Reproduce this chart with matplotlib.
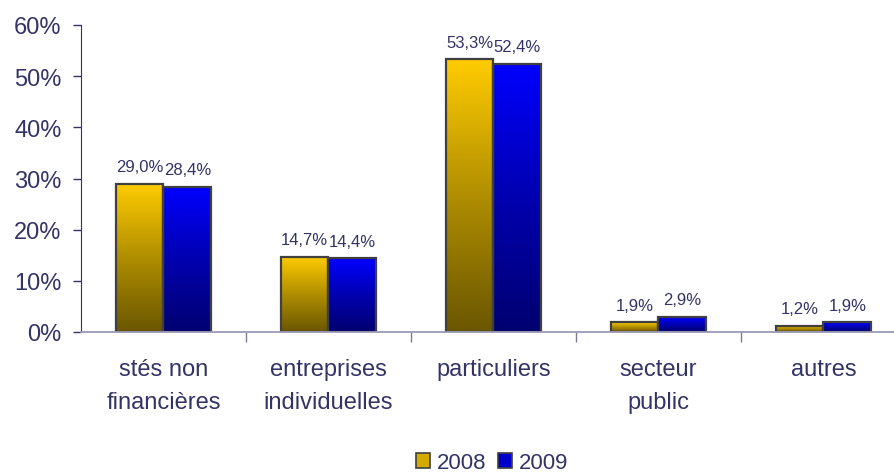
import numpy as np
import matplotlib
matplotlib.use("Agg")
import matplotlib.pyplot as plt
from matplotlib.colors import LinearSegmentedColormap
from matplotlib.patches import Patch
from matplotlib.ticker import FixedLocator, FuncFormatter

categories = ["stés non\nfinancières", "entreprises\nindividuelles", "particuliers",
              "secteur\npublic", "autres"]
years = ["2008", "2009"]
values_2008 = [29.0, 14.7, 53.3, 1.9, 1.2]
values_2009 = [28.4, 14.4, 52.4, 2.9, 1.9]
y_ticks = [0, 10, 20, 30, 40, 50, 60]

text_color = "#333366"
plt.rcParams["font.family"] = ["Liberation Sans", "DejaVu Sans"]

fig = plt.figure(figsize=(8.95, 4.77), dpi=100)
W, H = 895, 477
ax = fig.add_axes([81 / W, 1 - 333 / H, (906 - 81) / W, (333 - 26) / H])

gold = LinearSegmentedColormap.from_list("gold", ["#6a5600", "#b08e00", "#ffcc00"])
blue = LinearSegmentedColormap.from_list("blue", ["#000070", "#0000b0", "#0000ff"])

x = np.arange(len(categories))
width = 0.288
series = [(values_2008, gold, -width / 2), (values_2009, blue, width / 2)]
grad = np.linspace(0, 1, 256).reshape(-1, 1)

for vals, cmap, off in series:
    bars = ax.bar(x + off, vals, width, facecolor="none", edgecolor="#404040",
                  linewidth=1.6, zorder=3)
    for b, v in zip(bars, vals):
        x0, w, h = b.get_x(), b.get_width(), b.get_height()
        ax.imshow(grad, cmap=cmap, origin="lower", aspect="auto",
                  extent=[x0, x0 + w, 0, h], zorder=2, interpolation="bilinear")
        ax.annotate(f"{v:.1f}%".replace(".", ","), (x0 + w / 2, h),
                    xytext=(0, 7), textcoords="offset points", ha="center",
                    va="bottom", fontsize=12, color=text_color)

ax.set_xlim(-0.5, len(categories) - 0.5)
ax.set_ylim(0, 60)

ax.set_yticks(y_ticks)
ax.yaxis.set_major_formatter(FuncFormatter(lambda v, p: f"{v:.0f}%"))
ax.tick_params(axis="y", length=6, width=1, color=text_color, pad=8,
               labelsize=17, labelcolor=text_color)

ax.set_xticks(x)
ax.set_xticklabels(categories, fontsize=17, color=text_color, linespacing=1.62)
ax.tick_params(axis="x", which="major", length=0, pad=19)
ax.xaxis.set_minor_locator(FixedLocator(np.arange(len(categories)) + 0.5))
ax.tick_params(axis="x", which="minor", length=7, width=1, color="#7a7a9a")

for s in ["top", "right"]:
    ax.spines[s].set_visible(False)
ax.spines["left"].set_color(text_color)
ax.spines["bottom"].set_color("#9a9ab8")
ax.spines["bottom"].set_linewidth(1.3)
ax.spines["bottom"].set_zorder(4)

handles = [Patch(facecolor="#d4aa00", edgecolor="#404040", linewidth=1.2),
           Patch(facecolor="#0000cc", edgecolor="#404040", linewidth=1.2)]
fig.legend(handles, years, loc="center", bbox_to_anchor=(492 / W, 1 - 464 / H),
           ncol=2, frameon=False, fontsize=16, labelcolor=text_color,
           handlelength=0.65, handleheight=0.65, handletextpad=0.3,
           columnspacing=0.5, borderpad=0.2)

fig.savefig("out.png", dpi=100)
